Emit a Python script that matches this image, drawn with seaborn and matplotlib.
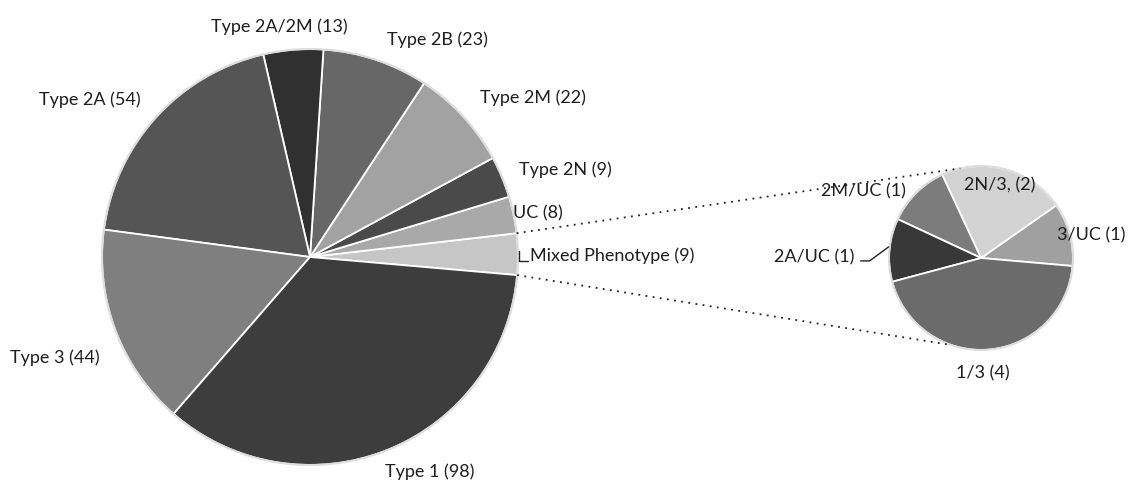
import seaborn as sns
import matplotlib.pyplot as plt
import numpy as np

# ---------------------------
# Data
# ---------------------------
main_labels = ["Mixed Phenotype (9)", "UC (8)", "Type 2N (9)", "Type 2M (22)",
               "Type 2B (23)", "Type 2A/2M (13)", "Type 2A (54)", "Type 3 (44)",
               "Type 1 (98)"]
main_counts = [9, 8, 9, 22, 23, 13, 54, 44, 98]
main_colors = ["#c6c6c6", "#a9a9a9", "#4a4a4a", "#a2a2a2",
               "#676767", "#303030", "#555555", "#7f7f7f", "#3d3d3d"]

mixed_labels = ["3/UC (1)", "2N/3, (2)", "2M/UC (1)", "2A/UC (1)", "1/3 (4)"]
mixed_counts = [1, 2, 1, 1, 4]
mixed_colors = ["#a0a0a0", "#d2d2d2", "#7c7c7c", "#383838", "#6b6b6b"]

# ---------------------------
# Layout (pixel-like coordinates, y up)
# ---------------------------
W, H = 1128, 483
main_c, main_r = (310, H - 257), 208
small_c, small_r = (981, H - 258), 92

sns.set_style("white")
plt.rcParams["font.family"] = ["Lato", "DejaVu Sans"]

fig = plt.figure(figsize=(W / 100, H / 100), dpi=100)
ax = fig.add_axes([0, 0, 1, 1])

wedge_kw = dict(edgecolor="white", linewidth=1.3)
w_main, _ = ax.pie(main_counts, colors=main_colors, startangle=-5,
                   center=main_c, radius=main_r, wedgeprops=wedge_kw)
w_small, _ = ax.pie(mixed_counts, colors=mixed_colors, startangle=-5,
                    center=small_c, radius=small_r, wedgeprops=wedge_kw)

# soft outer rim like the original
for c, r in [(main_c, main_r), (small_c, small_r)]:
    ax.add_patch(plt.Circle(c, r, fill=False, edgecolor="#dddddd", lw=1.5))


def polar(c, r, ang):
    a = np.deg2rad(ang)
    return c[0] + r * np.cos(a), c[1] + r * np.sin(a)


txt_kw = dict(fontsize=13, color="#1e1e1e", va="center")

# main pie labels: (distance factor, angle offset, alignment)
main_pos = {
    "Mixed Phenotype (9)": (1.058, -0.5, "left"),
    "UC (8)": (1.0, 0.5, "left"),
    "Type 2N (9)": (1.09, -0.1, "left"),
    "Type 2M (22)": (1.12, 0.5, "left"),
    "Type 2B (23)": (1.11, -1.0, "left"),
    "Type 2A/2M (13)": (1.115, 3.0, "center"),
    "Type 2A (54)": (1.11, -0.6, "right"),
    "Type 3 (44)": (1.12, 5.0, "right"),
    "Type 1 (98)": (1.095, -2.8, "left"),
}
for w, lab in zip(w_main, main_labels):
    mid = (w.theta1 + w.theta2) / 2
    f, off, ha = main_pos[lab]
    x, y = polar(main_c, main_r * f, mid + off)
    ax.text(x, y, lab, ha=ha, **txt_kw)

# small bracket leader for Mixed Phenotype
mx, my = polar(main_c, main_r, 0)
ax.plot([mx + 1, mx + 1, mx + 10], [my + 6, my - 4, my - 4], color="#222222", lw=1)

# small pie labels
small_pos = {
    "3/UC (1)": (0.86, 1.8, "left"),
    "2N/3, (2)": (0.82, 0.4, "center"),
    "2M/UC (1)": (1.09, 3.6, "right"),
    "1/3 (4)": (1.25, -4, "center"),
}
for w, lab in zip(w_small, mixed_labels):
    if lab not in small_pos:
        continue
    mid = (w.theta1 + w.theta2) / 2
    f, off, ha = small_pos[lab]
    x, y = polar(small_c, small_r * f, mid + off)
    ax.text(x, y, lab, ha=ha, **txt_kw)

# 2A/UC label with leader line
ex, ey = polar(small_c, small_r * 0.99, 173)
ax.plot([ex - 30, ex - 21, ex - 2], [ey - 14, ey - 14, ey], color="#222222", lw=1)
ax.text(ex - 36, ey - 10, "2A/UC (1)", ha="right", **txt_kw)

# dotted connectors from the Mixed Phenotype wedge to the breakdown pie
wm = w_main[0]
p_top = polar(main_c, main_r, wm.theta2)
p_bot = polar(main_c, main_r, wm.theta1)
q_top = polar(small_c, small_r, 103)
q_bot = polar(small_c, small_r, 251)
dot = dict(ls=(0, (1, 3)), color="#222222", lw=1.3)
ax.plot([p_top[0], q_top[0]], [p_top[1], q_top[1]], **dot)
ax.plot([p_bot[0], q_bot[0]], [p_bot[1], q_bot[1]], **dot)

ax.set_xlim(0, W)
ax.set_ylim(0, H)
ax.set_aspect("equal")
ax.axis("off")

fig.savefig("out.png", dpi=100)
plt.close(fig)
